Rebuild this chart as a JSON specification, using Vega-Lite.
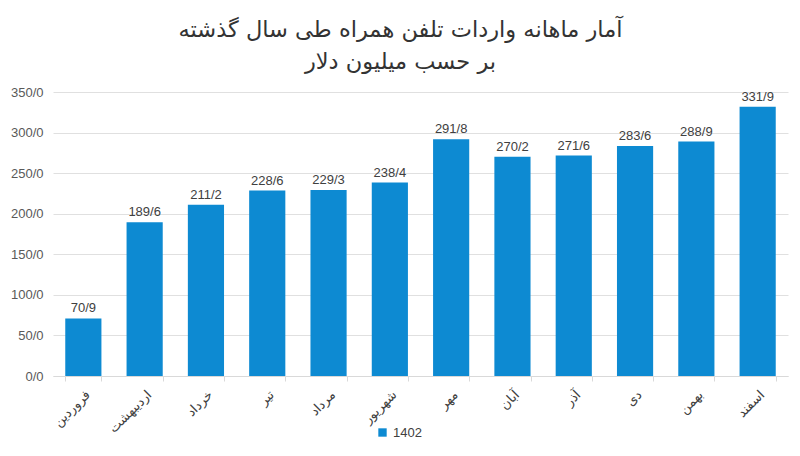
{
  "$schema": "https://vega.github.io/schema/vega-lite/v6.json",
  "width": 735,
  "height": 284,
  "autosize": {"type": "none"},
  "padding": {"left": 53, "top": 92, "right": 12, "bottom": 80},
  "background": "white",
  "title": {
    "text": ["آمار  ماهانه واردات تلفن همراه طی سال گذشته", "بر حسب میلیون دلار"],
    "font": "DejaVu Sans",
    "fontSize": 22.5,
    "fontWeight": "normal",
    "color": "#333333",
    "lineHeight": 32,
    "anchor": "middle",
    "dx": -20,
    "offset": 13
  },
  "data": {
    "values": [
      {"month": "فروردین", "year": "1402", "value": 70.9},
      {"month": "اردیبهشت", "year": "1402", "value": 189.6},
      {"month": "خرداد", "year": "1402", "value": 211.2},
      {"month": "تیر", "year": "1402", "value": 228.6},
      {"month": "مرداد", "year": "1402", "value": 229.3},
      {"month": "شهریور", "year": "1402", "value": 238.4},
      {"month": "مهر", "year": "1402", "value": 291.8},
      {"month": "آبان", "year": "1402", "value": 270.2},
      {"month": "آذر", "year": "1402", "value": 271.6},
      {"month": "دی", "year": "1402", "value": 283.6},
      {"month": "بهمن", "year": "1402", "value": 288.9},
      {"month": "اسفند", "year": "1402", "value": 331.9}
    ]
  },
  "transform": [
    {"calculate": "replace(format(datum.value, '.1f'), '.', '/')", "as": "label"}
  ],
  "encoding": {
    "x": {
      "field": "month",
      "type": "nominal",
      "sort": null,
      "scale": {"paddingInner": 0.41, "paddingOuter": 0.2},
      "axis": {
        "title": null,
        "labelAngle": -45,
        "labelFont": "DejaVu Sans",
        "labelFontSize": 13,
        "labelColor": "#404040",
        "labelPadding": 7,
        "tickBand": "extent",
        "tickSize": 5,
        "tickColor": "#d9d9d9",
        "domainColor": "#d9d9d9",
        "grid": false
      }
    },
    "y": {
      "field": "value",
      "type": "quantitative",
      "scale": {"domain": [0, 350]},
      "axis": {
        "title": null,
        "values": [0, 50, 100, 150, 200, 250, 300, 350],
        "labelExpr": "replace(format(datum.value, '.1f'), '.', '/')",
        "labelFont": "Liberation Sans",
        "labelFontSize": 13,
        "labelColor": "#595959",
        "labelPadding": 10,
        "domain": false,
        "ticks": false,
        "gridColor": "#e0e0e0"
      }
    }
  },
  "layer": [
    {
      "mark": {"type": "bar", "color": "#0d8ad2"},
      "encoding": {
        "color": {
          "field": "year",
          "type": "nominal",
          "scale": {"range": ["#0d8ad2"]},
          "legend": {
            "title": null,
            "orient": "none",
            "legendX": 323,
            "legendY": 334,
            "symbolType": "square",
            "symbolSize": 70,
            "labelFont": "Liberation Sans",
            "labelFontSize": 13,
            "labelColor": "#404040"
          }
        }
      }
    },
    {
      "mark": {"type": "text", "dy": -10, "font": "Liberation Sans", "fontSize": 13, "color": "#404040"},
      "encoding": {"text": {"field": "label"}}
    }
  ],
  "config": {"view": {"stroke": null}}
}
